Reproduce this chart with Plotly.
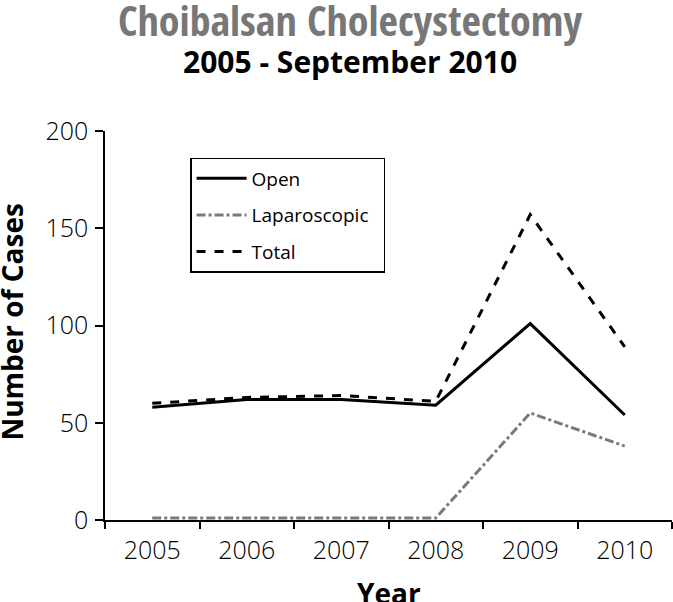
import plotly.graph_objects as go

years = ["2005", "2006", "2007", "2008", "2009", "2010"]
open_cases = [58, 62, 62, 59, 101, 54]
lap_cases = [1, 1, 1, 1, 55, 38]
total_cases = [60, 63, 64, 61, 157, 89]
y_ticks = [0, 50, 100, 150, 200]

fig = go.Figure()
fig.add_trace(go.Scatter(x=years, y=open_cases, name="Open", mode="lines",
                         line=dict(color="black", width=3), legendgroup="a"))
fig.add_trace(go.Scatter(x=years, y=lap_cases, name="Laparoscopic\u00a0\u00a0", mode="lines",
                         line=dict(color="#7a7a7a", width=3, dash="dashdot"), legendgroup="b"))
fig.add_trace(go.Scatter(x=years, y=total_cases, name="Total", mode="lines",
                         line=dict(color="black", width=3, dash="dash"), legendgroup="c"))

fig.update_layout(
    width=673, height=602,
    margin=dict(l=105, r=1, t=131, b=82),
    plot_bgcolor="white", paper_bgcolor="white",
    font=dict(family="Open Sans, Noto Sans, sans-serif", color="black"),
    showlegend=True,
    legend=dict(x=0.15, y=0.931, xanchor="left", yanchor="top",
                bordercolor="black", borderwidth=1.5, bgcolor="white",
                font=dict(size=19), tracegroupgap=9, itemwidth=50),
)
xc = (350 - 105) / 567
fig.add_annotation(text="<b>Choibalsan Cholecystectomy</b>", xref="paper", yref="paper",
                   x=xc, y=1, yshift=112, showarrow=False, xanchor="center", yanchor="middle",
                   font=dict(size=42, color="#777777", family="Open Sans Condensed, Roboto Condensed, Open Sans"))
fig.add_annotation(text="<b>2005 - September 2010</b>", xref="paper", yref="paper",
                   x=xc, y=1, yshift=70, showarrow=False, xanchor="center", yanchor="middle",
                   font=dict(size=30, color="black", family="Open Sans"))
fig.add_annotation(text="<b>Year</b>", xref="paper", yref="paper",
                   x=0.5, y=0, yshift=-73, showarrow=False, xanchor="center", yanchor="middle",
                   font=dict(size=28, color="black", family="Open Sans"))
fig.add_annotation(text="<b>Number of Cases</b>", xref="paper", yref="paper", textangle=-90,
                   x=0, xshift=-93, y=0.51, showarrow=False, xanchor="center", yanchor="middle",
                   font=dict(size=28, color="black", family="Open Sans"))

fig.update_xaxes(type="category", range=[-0.5, 5.5], showline=True, linecolor="black", linewidth=1.5,
                 ticks="outside", tickson="boundaries", ticklen=7, tickcolor="black", tickwidth=1.5,
                 showgrid=False, zeroline=False, automargin=False, ticklabelstandoff=7,
                 tickfont=dict(size=25, weight=300))
fig.update_yaxes(range=[0, 200], tickvals=y_ticks, showline=True, linecolor="black",
                 linewidth=1.5, ticks="outside", ticklen=8, tickcolor="black", tickwidth=1.5,
                 showgrid=False, zeroline=False, automargin=False, ticklabelstandoff=2,
                 tickfont=dict(size=25, weight=300))

fig.write_html("out.html", config={"displayModeBar": False},
               post_script="document.body.style.margin='0';document.body.style.overflow='hidden';")
